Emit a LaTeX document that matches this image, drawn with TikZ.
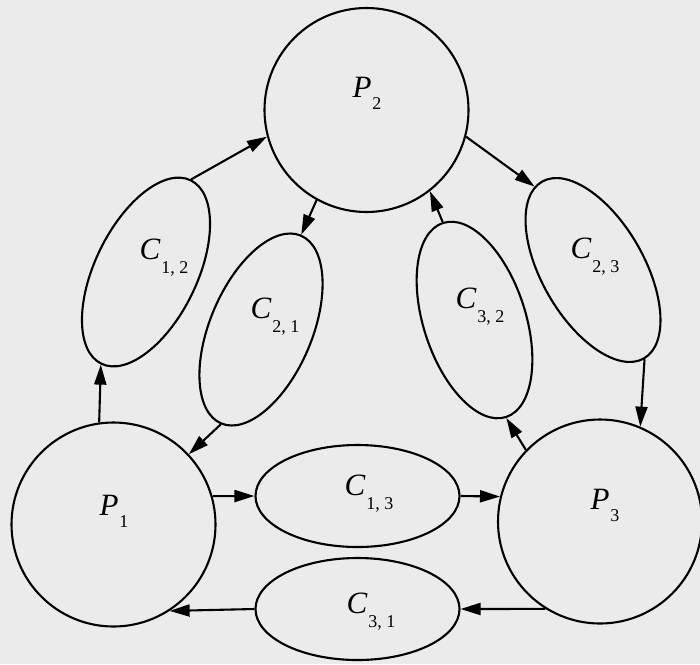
\documentclass[tikz,border=0pt]{standalone}
\usepackage{fontspec}
\setmainfont{Liberation Serif}
\usepackage{tikz}
\definecolor{paper}{RGB}{235,235,235}
\usetikzlibrary{shapes.geometric, arrows.meta, positioning, calc}
\newcommand{\channame}[3]{\textit{#1}\kern1pt\raisebox{#3}{\fontsize{18}{18}\selectfont #2}}

\begin{document}
\begin{tikzpicture}[
    x=1pt, y=-1pt,
    procnode/.style={circle, draw, line width=2.1pt, minimum size=204pt, inner sep=0pt},
    chan/.style={ellipse, draw, line width=2.1pt, minimum width=204pt, minimum height=102pt, inner sep=0pt},
    tag/.style={inner sep=0pt, font=\fontsize{31}{31}\selectfont},
    arr/.style={line width=2.1pt, -{Triangle[length=20pt, width=12pt]}}
]
    \fill[paper] (0,0) rectangle (700,664);
    \path[use as bounding box] (0,0) rectangle (700,664);

    % processes
    \node[procnode] (p1) at (113.5,524.5) {};
    \node[procnode] (p2) at (366.5,110) {};
    \node[procnode] (p3) at (600,521.5) {};

    % channels
    \node[chan, rotate=64] (c12) at (146,272) {};
    \node[chan, rotate=67] (c21) at (261,329.5) {};
    \node[chan, rotate=108] (c32) at (474.5,320) {};
    \node[chan, rotate=120] (c23) at (593,270) {};
    \node[chan] (c13) at (357.5,496) {};
    \node[chan] (c31) at (357.5,609) {};

    % labels
    \node[tag] (lp1) at (114,511) {\channame{P}{1}{-12pt}};
    \node[tag] (lp2) at (367,93) {\channame{P}{2}{-12pt}};
    \node[tag] (lp3) at (605,505) {\channame{P}{3}{-12pt}};
    \node[tag] (lc12) at (164,258) {\channame{C}{1, 2}{-14pt}};
    \node[tag] (lc21) at (275,317) {\channame{C}{2, 1}{-14pt}};
    \node[tag] (lc32) at (480,307) {\channame{C}{3, 2}{-14pt}};
    \node[tag] (lc23) at (595,257) {\channame{C}{2, 3}{-14pt}};
    \node[tag] (lc13) at (369,494) {\channame{C}{1, 3}{-14pt}};
    \node[tag] (lc31) at (371,612) {\channame{C}{3, 1}{-14pt}};

    % connectors
    \draw[arr] (p1.98) -- (c12.180);
    \draw[arr] (c12.0) -- (p2.195);
    \draw[arr] (p2.241) -- (c21.0);
    \draw[arr] (c21.180) -- (p1.43);
    \draw[arr] (p1.16) -- (c13.west);
    \draw[arr] (c13.east) -- (p3.166);
    \draw[arr] (p3.238) -- (c31.east);
    \draw[arr] (c31.west) -- (p1.303);
    \draw[arr] (p3.136) -- (c32.180);
    \draw[arr] (c32.0) -- (p2.308);
    \draw[arr] (p2.345) -- (c23.5);
    \draw[arr] (c23.180) -- (p3.67);
\end{tikzpicture}
\end{document}
